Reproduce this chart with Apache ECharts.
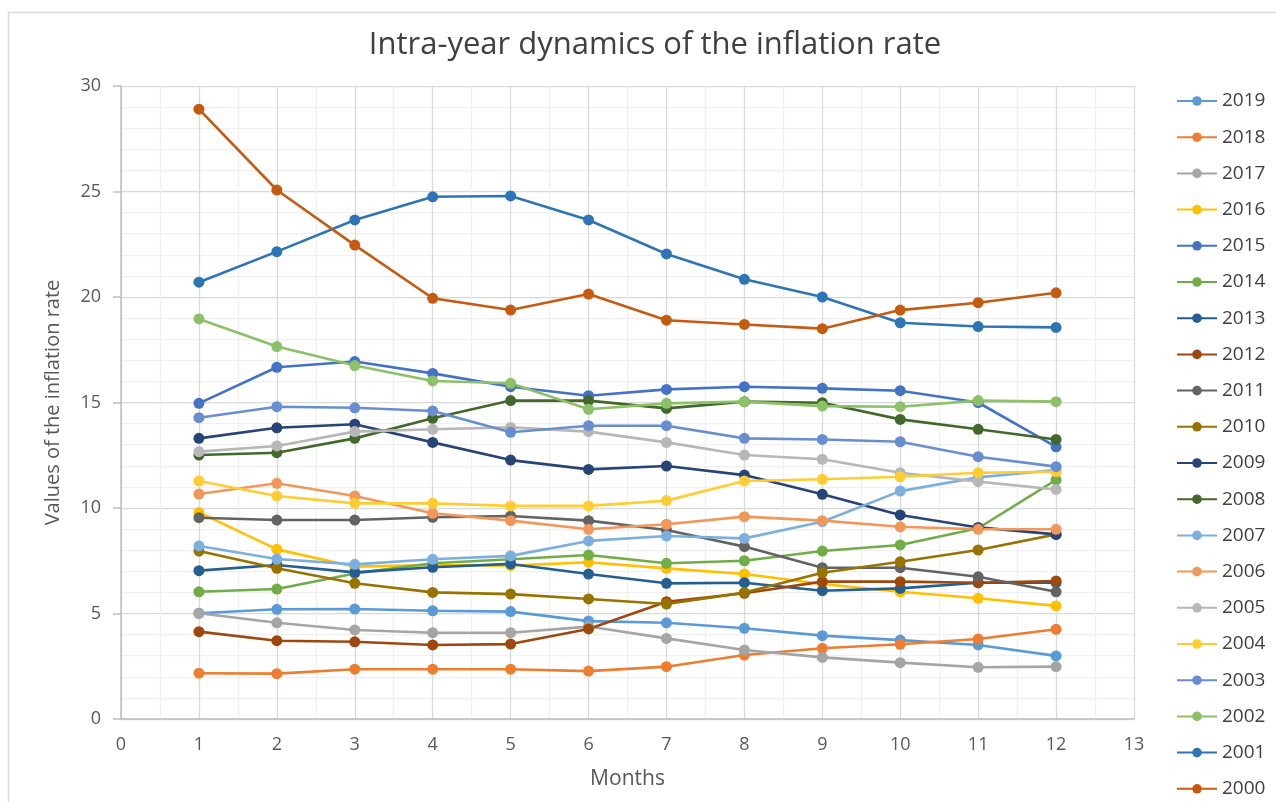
<!DOCTYPE html>
<html>
<head>
<meta charset="utf-8">
<script src="https://cdn.jsdelivr.net/npm/echarts@6/dist/echarts.min.js"></script>
<style>html,body{margin:0;padding:0;background:#fff;}#c{width:1276px;height:802px;}</style>
</head>
<body>
<div id="c"></div>
<script>
const months = [1,2,3,4,5,6,7,8,9,10,11,12];
const years = ['2019','2018','2017','2016','2015','2014','2013','2012','2011','2010','2009','2008','2007','2006','2005','2004','2003','2002','2001','2000'];
const y2019 = [5.01, 5.2, 5.21, 5.13, 5.09, 4.64, 4.56, 4.3, 3.95, 3.74, 3.51, 2.99];
const y2018 = [2.17, 2.15, 2.36, 2.36, 2.36, 2.27, 2.48, 3.03, 3.35, 3.54, 3.79, 4.25];
const y2017 = [5.01, 4.56, 4.22, 4.09, 4.09, 4.38, 3.82, 3.27, 2.92, 2.67, 2.45, 2.48];
const y2016 = [9.79, 8.04, 7.22, 7.3, 7.27, 7.43, 7.14, 6.87, 6.4, 6.03, 5.72, 5.36];
const y2015 = [14.96, 16.67, 16.94, 16.38, 15.75, 15.32, 15.62, 15.75, 15.67, 15.56, 15.0, 12.9];
const y2014 = [6.03, 6.16, 6.9, 7.38, 7.57, 7.77, 7.38, 7.5, 7.96, 8.25, 9.04, 11.33];
const y2013 = [7.03, 7.3, 6.95, 7.19, 7.35, 6.87, 6.43, 6.46, 6.08, 6.19, 6.46, 6.46];
const y2012 = [4.14, 3.71, 3.66, 3.51, 3.55, 4.27, 5.56, 5.96, 6.51, 6.51, 6.46, 6.54];
const y2011 = [9.54, 9.43, 9.43, 9.56, 9.62, 9.4, 8.96, 8.17, 7.17, 7.17, 6.74, 6.03];
const y2010 = [7.96, 7.14, 6.43, 6.0, 5.92, 5.69, 5.45, 5.99, 6.93, 7.45, 8.01, 8.75];
const y2009 = [13.3, 13.8, 13.97, 13.11, 12.27, 11.83, 11.99, 11.56, 10.65, 9.67, 9.08, 8.75];
const y2008 = [12.51, 12.62, 13.3, 14.25, 15.09, 15.09, 14.72, 15.04, 14.99, 14.2, 13.73, 13.25];
const y2007 = [8.2, 7.58, 7.33, 7.57, 7.73, 8.44, 8.67, 8.56, 9.35, 10.8, 11.45, 11.8];
const y2006 = [10.66, 11.17, 10.57, 9.75, 9.4, 8.99, 9.23, 9.59, 9.4, 9.11, 8.99, 8.99];
const y2005 = [12.67, 12.94, 13.62, 13.73, 13.82, 13.62, 13.11, 12.51, 12.31, 11.67, 11.25, 10.88];
const y2004 = [11.28, 10.57, 10.22, 10.22, 10.1, 10.1, 10.35, 11.28, 11.36, 11.48, 11.67, 11.72];
const y2003 = [14.28, 14.8, 14.75, 14.6, 13.59, 13.9, 13.9, 13.3, 13.25, 13.14, 12.43, 11.96];
const y2002 = [18.96, 17.65, 16.75, 16.02, 15.91, 14.68, 14.96, 15.04, 14.83, 14.8, 15.09, 15.04];
const y2001 = [20.7, 22.15, 23.65, 24.75, 24.79, 23.65, 22.04, 20.84, 20.0, 18.78, 18.6, 18.56];
const y2000 = [28.9, 25.07, 22.46, 19.94, 19.38, 20.14, 18.9, 18.7, 18.5, 19.38, 19.73, 20.2];

const values = [y2019,y2018,y2017,y2016,y2015,y2014,y2013,y2012,y2011,y2010,y2009,y2008,y2007,y2006,y2005,y2004,y2003,y2002,y2001,y2000];
const colors = ['#5B9BD5','#ED7D31','#A5A5A5','#FFC000','#4472C4','#70AD47','#255E91','#9E480E','#636363','#997300','#264478','#43682B','#7CAFDD','#F1975A','#B7B7B7','#FFCD33','#698ED0','#8CC168','#2E75B6','#C55A11'];

const FONT = 'Open Sans';
const chart = echarts.init(document.getElementById('c'), null, {renderer:'canvas'});
const series = years.map((y, i) => ({
  name: y,
  type: 'line',
  data: months.map((m, j) => [m, values[i][j]]),
  symbol: 'circle',
  symbolSize: 11,
  lineStyle: {width: 2.6, color: colors[i]},
  itemStyle: {color: colors[i]},
  emphasis: {disabled: true},
  animation: false
}));

chart.setOption({
  backgroundColor: '#fff',
  animation: false,
  color: colors,
  graphic: [{
    type: 'rect', shape: {x: 8.5, y: 12.5, width: 1300, height: 820},
    style: {fill: 'none', stroke: '#D9D9D9', lineWidth: 1.5}, silent: true
  }],
  title: {
    text: 'Intra-year dynamics of the inflation rate',
    left: 650, top: 25, textAlign: 'center',
    textStyle: {fontFamily: FONT, fontSize: 31, fontWeight: 'normal', color: '#404040'}
  },
  legend: {
    orient: 'vertical',
    left: 1176, top: 91,
    padding: 0,
    itemWidth: 40, itemHeight: 12,
    itemGap: 16.2,
    data: years,
    textStyle: {fontFamily: FONT, fontSize: 19, color: '#404040', lineHeight: 20, padding: [0,0,0,0]}
  },
  grid: {left: 121, right: 142, top: 86, bottom: 83, containLabel: false},
  xAxis: {
    type: 'value', min: 0, max: 13, interval: 1,
    name: 'Months', nameLocation: 'middle', nameGap: 50,
    nameTextStyle: {fontFamily: FONT, fontSize: 21, color: '#595959'},
    axisLine: {show: true, onZero: false, lineStyle: {color: '#BFBFBF', width: 1.5}},
    axisTick: {show: false},
    axisLabel: {fontFamily: FONT, fontSize: 18, color: '#595959', margin: 17},
    splitLine: {show: true, lineStyle: {color: '#D9D9D9', width: 1.25}},
    minorTick: {show: false, splitNumber: 2},
    minorSplitLine: {show: true, lineStyle: {color: '#F0F0F0', width: 1.25}}
  },
  yAxis: {
    type: 'value', min: 0, max: 30, interval: 5,
    name: 'Values of the inflation rate', nameLocation: 'middle', nameGap: 58, nameRotate: 90,
    nameTextStyle: {fontFamily: FONT, fontSize: 20, color: '#595959'},
    axisLine: {show: true, lineStyle: {color: '#BFBFBF', width: 1.5}},
    axisTick: {show: true, inside: false, length: 8, lineStyle: {color: '#BFBFBF', width: 1.5}},
    axisLabel: {fontFamily: FONT, fontSize: 18, color: '#595959', margin: 20},
    splitLine: {show: true, lineStyle: {color: '#D9D9D9', width: 1.25}},
    minorTick: {show: false, splitNumber: 5},
    minorSplitLine: {show: true, lineStyle: {color: '#F0F0F0', width: 1.25}}
  },
  series: series
});
</script>
</body>
</html>
